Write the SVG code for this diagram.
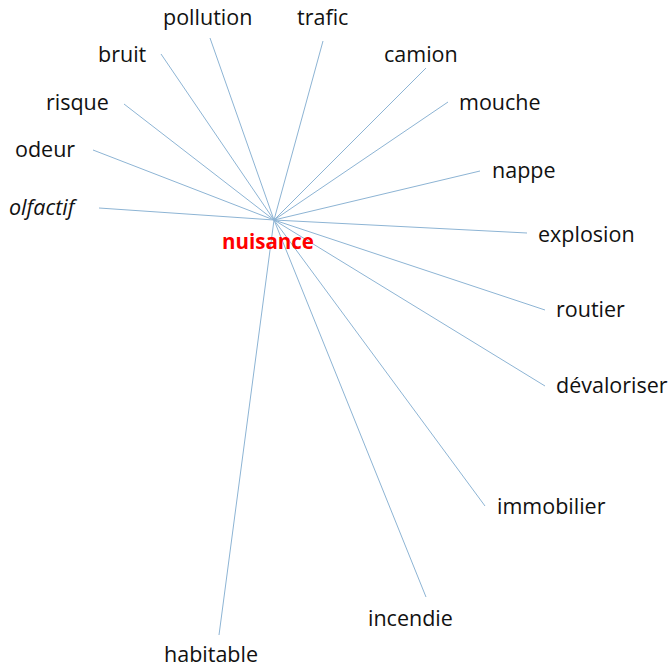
<svg xmlns="http://www.w3.org/2000/svg" width="672" height="668" viewBox="0 0 672 668">
<style>
.l{stroke:#8DB4D4;stroke-width:1;fill:none}
.t{font-family:"Open Sans","Noto Sans",sans-serif;font-size:21.5px;fill:#111}
.c{font-family:"Open Sans","Noto Sans",sans-serif;font-size:20.5px;font-weight:bold;fill:#FF0000}
</style>
<rect width="672" height="668" fill="#fff"/>
<g id="connectors">
<line class="l" x1="274" y1="220" x2="210" y2="38"/>
<line class="l" x1="274" y1="220" x2="323" y2="41"/>
<line class="l" x1="274" y1="220" x2="161" y2="54"/>
<line class="l" x1="274" y1="220" x2="124" y2="104"/>
<line class="l" x1="274" y1="220" x2="93" y2="150"/>
<line class="l" x1="274" y1="220" x2="99" y2="208"/>
<line class="l" x1="274" y1="220" x2="426" y2="68"/>
<line class="l" x1="274" y1="220" x2="448" y2="102"/>
<line class="l" x1="274" y1="220" x2="480" y2="171"/>
<line class="l" x1="274" y1="220" x2="527" y2="233"/>
<line class="l" x1="274" y1="220" x2="545" y2="310"/>
<line class="l" x1="274" y1="220" x2="545" y2="386"/>
<line class="l" x1="274" y1="220" x2="485" y2="506"/>
<line class="l" x1="274" y1="220" x2="426" y2="597"/>
<line class="l" x1="274" y1="220" x2="219" y2="635"/>
</g>
<g id="nuisance"><text class="c" x="222" y="249">nuisance</text></g>
<g id="pollution"><text class="t" x="163" y="25">pollution</text></g>
<g id="trafic"><text class="t" x="297" y="25">trafic</text></g>
<g id="bruit"><text class="t" x="98" y="62">bruit</text></g>
<g id="risque"><text class="t" x="46" y="110">risque</text></g>
<g id="odeur"><text class="t" x="15" y="157">odeur</text></g>
<g id="olfactif"><text class="t" x="9" y="215" font-style="italic">olfactif</text></g>
<g id="camion"><text class="t" x="384" y="62">camion</text></g>
<g id="mouche"><text class="t" x="459" y="110">mouche</text></g>
<g id="nappe"><text class="t" x="492" y="178">nappe</text></g>
<g id="explosion"><text class="t" x="538" y="242">explosion</text></g>
<g id="routier"><text class="t" x="556" y="317">routier</text></g>
<g id="devaloriser"><text class="t" x="556" y="393">dévaloriser</text></g>
<g id="immobilier"><text class="t" x="497" y="514">immobilier</text></g>
<g id="incendie"><text class="t" x="368" y="626">incendie</text></g>
<g id="habitable"><text class="t" x="164" y="662">habitable</text></g>
</svg>
